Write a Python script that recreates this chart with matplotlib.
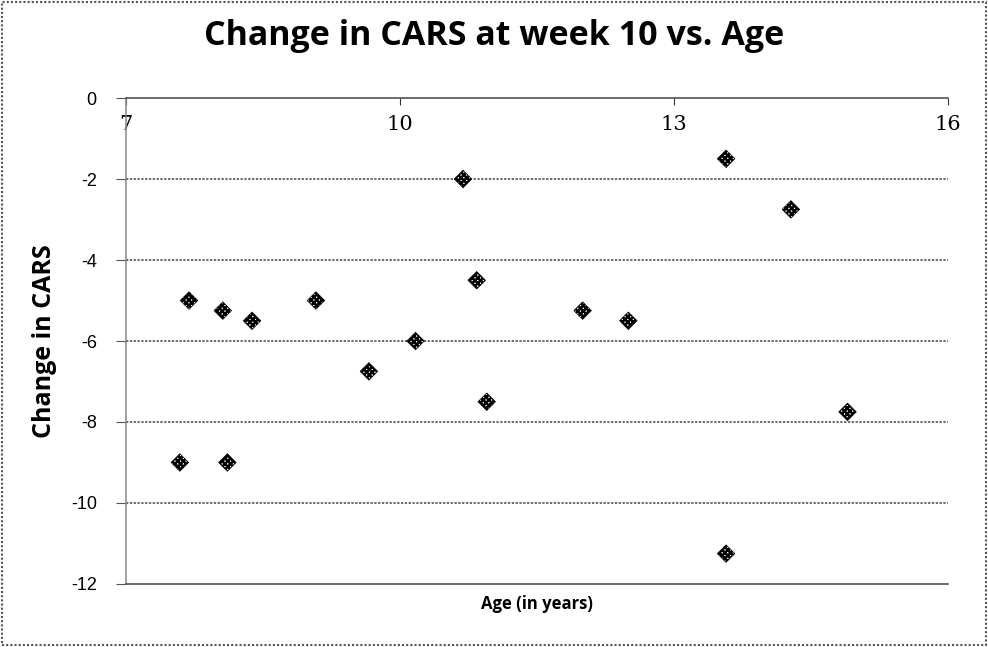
import numpy as np
import matplotlib.pyplot as plt
from matplotlib.patches import Rectangle

# ages (years) and change in CARS score at week 10
age = [7.59, 7.69, 8.06, 8.11, 8.38, 9.08, 9.66, 10.17, 10.69, 10.84,
       10.95, 12.0, 12.5, 13.57, 13.57, 14.28, 14.9]
change = [-9, -5, -5.25, -9, -5.5, -5, -6.75, -6, -2, -4.5,
          -7.5, -5.25, -5.5, -1.5, -11.25, -2.75, -7.75]
xticks = [7, 10, 13, 16]
yticks = [0, -2, -4, -6, -8, -10, -12]

plt.rcParams['hatch.linewidth'] = 1.8
plt.rcParams['axes.unicode_minus'] = False
fig = plt.figure(figsize=(9.88, 6.47), dpi=100)
ax = fig.add_axes([0.1275, 0.0974, 0.832, 0.7511])

for yv in yticks[1:-1]:
    ax.axhline(yv, color="#444444", lw=1.1, ls=(0, (1.5, 1)), zorder=1)

ax.scatter(age, change, marker="D", s=80, facecolor="white",
           edgecolor="black", hatch="xxxxxx", linewidths=0.5, zorder=3)

ax.set_xlim(7, 16)
ax.set_ylim(-12, 0)
ax.set_xticks(xticks)
ax.set_yticks(yticks)

# x axis crosses at y = 0, labels sit just below it
ax.spines["top"].set_visible(True)
ax.spines["right"].set_visible(False)
for s in ("top", "bottom"):
    ax.spines[s].set_color("#444444")
    ax.spines[s].set_linestyle((0, (1.5, 1)))
    ax.spines[s].set_linewidth(1.1)
ax.spines["left"].set_color("#888888")
ax.spines["left"].set_linestyle((0, (1.5, 1)))
ax.spines["left"].set_linewidth(1.1)

ax.xaxis.set_ticks_position("top")
ax.tick_params(axis="x", direction="in", length=5, pad=-26, colors="#333333",
               labelsize=15, labelcolor="black")
ax.tick_params(axis="y", direction="out", length=7, pad=14, colors="#555555",
               labelsize=13, labelcolor="black")
for lab in ax.get_xticklabels():
    lab.set_family("DejaVu Serif")
for lab in ax.get_yticklabels():
    lab.set_family("Liberation Sans")

ax.set_xlabel("Age (in years)", fontsize=12, fontweight="bold", family="Open Sans")
ax.xaxis.set_label_position("bottom")
ax.xaxis.labelpad = 8
ax.set_ylabel("Change in CARS", fontsize=18, fontweight="bold", family="Open Sans")
ax.yaxis.labelpad = 10

fig.suptitle("Change in CARS at week 10 vs. Age", x=0.5, y=0.97,
             fontsize=24.5, fontweight="bold", family="Open Sans")

fig.patches.append(Rectangle((0.002, 0.003), 0.996, 0.994, transform=fig.transFigure,
                             fill=False, ec="#555555", lw=1.5, ls=(0, (1, 1))))

plt.savefig("out.png", dpi=100)
